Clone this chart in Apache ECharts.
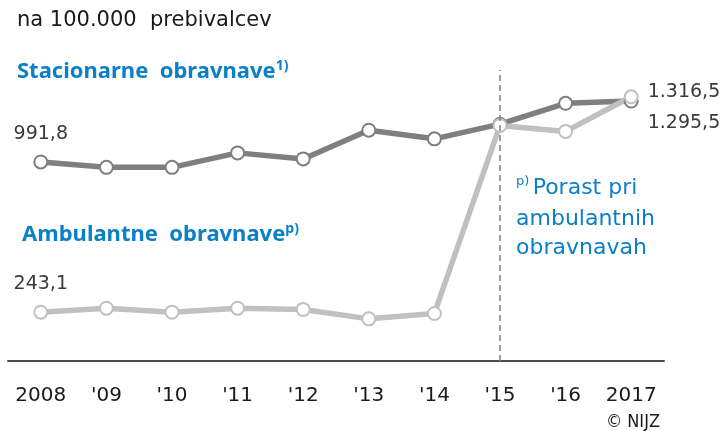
<!DOCTYPE html>
<html>
<head>
<meta charset="utf-8">
<script src="https://cdn.jsdelivr.net/npm/echarts@6/dist/echarts.min.js"></script>
<style>
  html, body { margin: 0; padding: 0; background: #fff; }
  #chart { width: 722px; height: 431px; }
</style>
</head>
<body>
<div id="chart"></div>
<script>
// podatki
const years = ['2008', '2009', '2010', '2011', '2012', '2013', '2014', '2015', '2016', '2017']
const tickLabels = ['2008', "'09", "'10", "'11", "'12", "'13", "'14", "'15", "'16", '2017']
const stacionarne = [991.8, 965, 965, 1037, 1007, 1150, 1107, 1180, 1284, 1295.5]
const ambulantne = [243.1, 263, 243, 263, 257, 210, 237, 1174, 1144, 1316.5]

const BLUE = '#0b7fc7'
const DARK = '#7f7f7f'
const LIGHT = '#c0c0c0'
const FONT = 'DejaVu Sans'

// slovenski zapis števil: 1.316,5
const fmt = (v) => {
  const parts = v.toFixed(1).split('.')
  return parts[0].replace(/\B(?=(\d{3})+(?!\d))/g, '.') + ',' + parts[1]
}

const labelStyle = { show: true, fontFamily: FONT, fontSize: 19, color: '#3a3a3a', formatter: (p) => fmt(p.value) }

const withLabels = (arr, first, last) => arr.map((v, i) => {
  if (i === 0) return { value: v, label: Object.assign({}, labelStyle, first) }
  if (i === arr.length - 1) return { value: v, label: Object.assign({}, labelStyle, last) }
  return v
})

const headerRich = {
  a: { fontFamily: 'Noto Sans', fontWeight: 'bold', fontSize: 22, fill: BLUE, lineHeight: 26 },
  s: { fontFamily: 'Noto Sans', fontWeight: 'bold', fontSize: 14, fill: BLUE, verticalAlign: 'top', lineHeight: 14 }
}

const chart = echarts.init(document.getElementById('chart'))

const option = {
  animation: false,
  grid: { left: 8, right: 58, top: 70, bottom: 70, outerBoundsMode: 'none' },
  xAxis: {
    type: 'category',
    data: years,
    boundaryGap: true,
    axisLine: { lineStyle: { color: '#4d4d4d', width: 2 } },
    axisTick: { show: false },
    axisLabel: {
      interval: 0,
      margin: 25,
      fontFamily: FONT,
      fontSize: 20,
      color: '#1a1a1a',
      formatter: (v, i) => tickLabels[i]
    }
  },
  yAxis: { type: 'value', min: 0, max: 1450, show: false, splitLine: { show: false } },
  series: [
    {
      name: 'Stacionarne obravnave',
      type: 'line',
      data: withLabels(stacionarne,
        { position: 'top', distance: 11 },
        { position: 'right', distance: 9, offset: [0, 22] }),
      symbol: 'circle',
      symbolSize: 13,
      lineStyle: { color: DARK, width: 5.5 },
      itemStyle: { color: '#fff', borderColor: DARK, borderWidth: 2 },
      label: { show: false }
    },
    {
      name: 'Ambulantne obravnave',
      type: 'line',
      data: withLabels(ambulantne,
        { position: 'top', distance: 11 },
        { position: 'right', distance: 9, offset: [0, -5] }),
      symbol: 'circle',
      symbolSize: 13,
      lineStyle: { color: LIGHT, width: 5.5 },
      itemStyle: { color: '#fff', borderColor: LIGHT, borderWidth: 2 },
      label: { show: false },
      markLine: {
        silent: true,
        symbol: 'none',
        label: { show: false },
        lineStyle: { color: '#808080', width: 1.5, type: [6, 4] },
        data: [{ xAxis: '2015' }]
      }
    }
  ],
  graphic: [
    {
      type: 'text',
      style: { x: 17, y: 21, text: 'na 100.000  prebivalcev', font: '21px "DejaVu Sans"', fill: '#1a1a1a', verticalAlign: 'middle' }
    },
    {
      type: 'text',
      style: { x: 17, y: 72, verticalAlign: 'middle', text: '{a|Stacionarne  obravnave}{s|1)}', rich: headerRich }
    },
    {
      type: 'text',
      style: { x: 22, y: 235, verticalAlign: 'middle', text: '{a|Ambulantne  obravnave}{s|p)}', rich: headerRich }
    },
    {
      type: 'text',
      style: {
        x: 516, y: 188, verticalAlign: 'middle',
        text: '{s|p)} {a|Porast pri}',
        rich: {
          a: { fontFamily: FONT, fontSize: 22, fill: BLUE, lineHeight: 26 },
          s: { fontFamily: FONT, fontSize: 13, fill: BLUE, verticalAlign: 'top', lineHeight: 14 }
        }
      }
    },
    {
      type: 'text',
      style: { x: 516, y: 219, text: 'ambulantnih', font: '22px "DejaVu Sans"', fill: BLUE, verticalAlign: 'middle' }
    },
    {
      type: 'text',
      style: { x: 516, y: 248, text: 'obravnavah', font: '22px "DejaVu Sans"', fill: BLUE, verticalAlign: 'middle' }
    },
    {
      type: 'text',
      style: { x: 660, y: 422, text: '© NIJZ', font: '18px "DejaVu Sans Condensed"', fill: '#1a1a1a', align: 'right', verticalAlign: 'middle' }
    }
  ]
}

chart.setOption(option)
</script>
</body>
</html>
